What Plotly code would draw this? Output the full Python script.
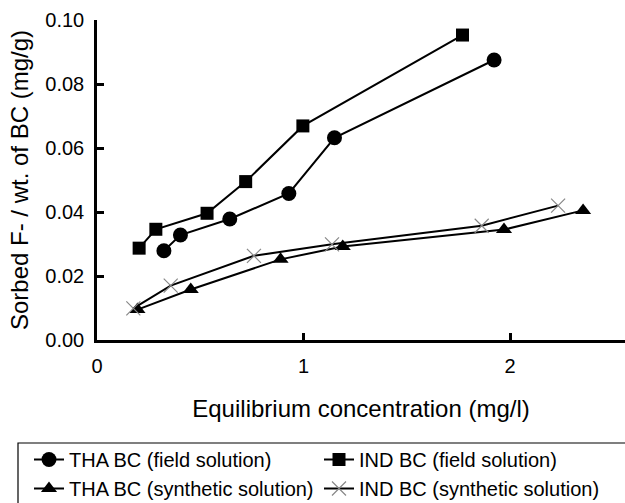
import plotly.graph_objects as go

# Data
tha_field_x = [0.324, 0.404, 0.643, 0.929, 1.150, 1.923]
tha_field_y = [0.0279, 0.0328, 0.0378, 0.0458, 0.0632, 0.0875]
ind_field_x = [0.204, 0.285, 0.533, 0.720, 0.997, 1.770]
ind_field_y = [0.0287, 0.0346, 0.0396, 0.0495, 0.0669, 0.0953]
tha_syn_x = [0.196, 0.454, 0.889, 1.190, 1.971, 2.354]
tha_syn_y = [0.0095, 0.0158, 0.0252, 0.0292, 0.0345, 0.0405]
ind_syn_x = [0.176, 0.357, 0.760, 1.138, 1.863, 2.233]
ind_syn_y = [0.0099, 0.0170, 0.0263, 0.0299, 0.0357, 0.0420]

names = ["THA BC (field solution)", "IND BC (field solution)",
         "THA BC (synthetic solution)", "IND BC (synthetic solution)"]

FONT = "Liberation Sans, Arial, sans-serif"
FS = 20

fig = go.Figure()
fig.add_trace(go.Scatter(x=tha_field_x, y=tha_field_y, name=names[0], mode="lines+markers",
                         line=dict(color="black", width=2), legend="legend",
                         marker=dict(symbol="circle", size=15, color="black")))
fig.add_trace(go.Scatter(x=ind_field_x, y=ind_field_y, name=names[1], mode="lines+markers",
                         line=dict(color="black", width=2), legend="legend",
                         marker=dict(symbol="square", size=13, color="black")))
fig.add_trace(go.Scatter(x=tha_syn_x, y=tha_syn_y, name=names[2], mode="lines+markers",
                         line=dict(color="black", width=2), legend="legend2",
                         marker=dict(symbol="triangle-up", size=14, color="black")))
fig.add_trace(go.Scatter(x=ind_syn_x, y=ind_syn_y, name=names[3], mode="lines+markers",
                         line=dict(color="black", width=2), legend="legend2",
                         marker=dict(symbol="x-thin-open", size=14, color="#888888",
                                     line=dict(color="#888888", width=1.2))))

L, T, B = 97, 20, 163
W, H = 625, 503
pw = W - L
ph = H - T - B


def px_x(p):
    return (p - L) / pw


def px_y(p):
    return (H - B - p) / ph


leg_common = dict(orientation="h", xanchor="left", yanchor="top",
                  entrywidth=245, entrywidthmode="pixels",
                  font=dict(family=FONT, size=FS), bgcolor="rgba(0,0,0,0)",
                  borderwidth=0)

fig.update_layout(
    width=W, height=H,
    margin=dict(l=L, r=0, t=T, b=B, autoexpand=False),
    paper_bgcolor="white", plot_bgcolor="white",
    font=dict(family=FONT, size=FS, color="black"),
    showlegend=True,
    legend=dict(x=px_x(29), y=px_y(440), **leg_common),
    legend2=dict(x=px_x(29), y=px_y(469), **leg_common),
    shapes=[dict(type="rect", xref="paper", yref="paper",
                 x0=px_x(18), x1=px_x(640),
                 y0=px_y(520), y1=px_y(443),
                 line=dict(color="black", width=1.2), layer="above")],
)
fig.update_xaxes(range=[0, (W - L) / 206.5], tickvals=[0, 1, 2], ticktext=["0", "1", "2"],
                 showline=True, linecolor="black", linewidth=2.5, mirror=False,
                 ticks="inside", ticklen=7, tickwidth=2.5, tickcolor="black",
                 showgrid=False, zeroline=False, ticklabelstandoff=6,
                 title=dict(text="Equilibrium concentration (mg/l)", standoff=25),
                 tickfont=dict(size=FS))
fig.update_yaxes(range=[0, 0.1], tickvals=[0, 0.02, 0.04, 0.06, 0.08, 0.10],
                 ticktext=["0.00", "0.02", "0.04", "0.06", "0.08", "0.10"],
                 showline=True, linecolor="black", linewidth=2.5,
                 ticks="inside", ticklen=7, tickwidth=2.5, tickcolor="black",
                 showgrid=False, zeroline=False, ticklabelstandoff=6,
                 title=dict(text="Sorbed F- / wt. of BC (mg/g)", standoff=10),
                 tickfont=dict(size=FS))

fig.write_html("out.html", config={"displayModeBar": False},
               post_script="document.body.style.margin='0';document.body.style.overflow='hidden';")
